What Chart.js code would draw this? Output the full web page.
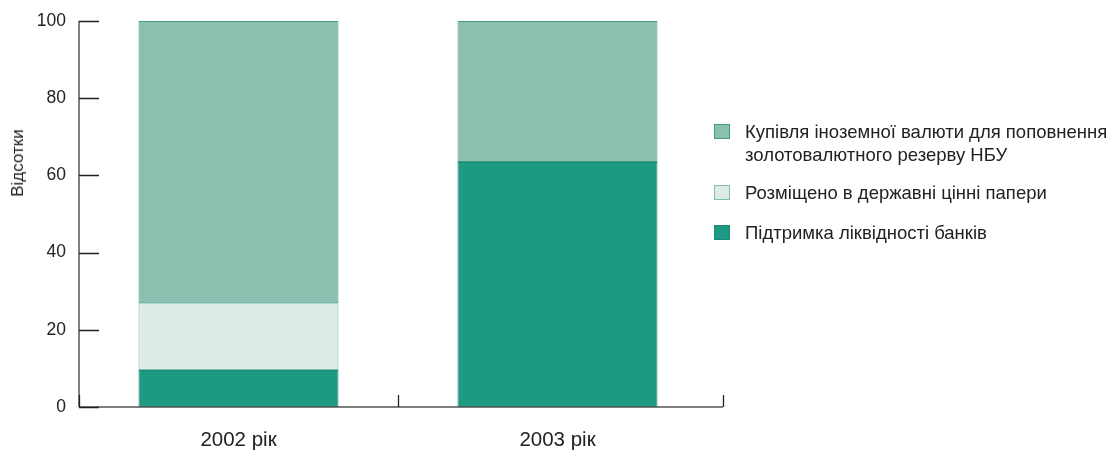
<!DOCTYPE html>
<html>
<head>
<meta charset="utf-8">
<script src="https://cdn.jsdelivr.net/npm/chart.js@4"></script>
<style>
  body { margin: 0; background: #fff; }
  #wrap { position: relative; width: 1108px; height: 452px; font-family: "Liberation Sans", Arial, sans-serif; color: #222; }
  #ytitle { position: absolute; left: 18px; top: 163px; font-size: 17px; white-space: nowrap; transform: translate(-50%, -50%) rotate(-90deg); }
  .item { position: absolute; left: 714px; padding-left: 31px; font-size: 18.5px; line-height: 23px; white-space: nowrap; }
  .box { position: absolute; left: 0; top: 4px; width: 14px; height: 13px; border: 1px solid; }
</style>
</head>
<body>
<div id="wrap">
  <canvas id="chart" width="1108" height="452"></canvas>
  <div id="ytitle">Відсотки</div>
</div>
<script>
const years = ['2002 рік', '2003 рік'];
const liquidity = [9.6, 63.5];
const securities = [17.3, 0];
const purchase = [73.1, 36.5];
const yTicks = [0, 20, 40, 60, 80, 100];

const names = {
  purchase: ['Купівля іноземної валюти для поповнення', 'золотовалютного резерву НБУ'],
  securities: ['Розміщено в державні цінні папери'],
  liquidity: ['Підтримка ліквідності банків']
};

const colors = {
  liquidity: { fill: '#1e9a84', border: '#178a72' },
  securities: { fill: '#dcebe7', border: '#7cbfac' },
  purchase: { fill: '#8bbfb0', border: '#3f9f86' }
};

// axis lines and inward tick marks like the original
const axesPlugin = {
  id: 'axes',
  afterDraw(chart) {
    const c = chart.ctx, a = chart.chartArea;
    const x = chart.scales.x, y = chart.scales.y;
    const end = a.right + 6;
    c.save();
    c.strokeStyle = '#555';
    c.lineWidth = 1.5;
    c.beginPath();
    c.moveTo(a.left, a.top);
    c.lineTo(a.left, a.bottom);
    c.moveTo(a.left, a.bottom);
    c.lineTo(end, a.bottom);
    c.stroke();
    c.strokeStyle = '#222';
    c.lineWidth = 1.3;
    c.beginPath();
    yTicks.forEach(v => {
      const py = Math.round(y.getPixelForValue(v)) + 0.5;
      c.moveTo(a.left, py);
      c.lineTo(a.left + 20, py);
    });
    const mid = (x.getPixelForValue(0) + x.getPixelForValue(1)) / 2;
    [a.left, mid, end].forEach(px => {
      c.moveTo(Math.round(px) + 0.5, a.bottom);
      c.lineTo(Math.round(px) + 0.5, a.bottom - 12);
    });
    c.stroke();
    c.restore();
  }
};

const mk = (key, data) => ({
  label: names[key].join(' '),
  data: data,
  backgroundColor: colors[key].fill,
  borderColor: colors[key].border,
  borderWidth: 1,
  borderSkipped: false
});

const font = '"Liberation Sans", Arial, sans-serif';

const chart = new Chart(document.getElementById('chart'), {
  type: 'bar',
  data: {
    labels: years,
    datasets: [
      mk('liquidity', liquidity),
      mk('securities', securities),
      mk('purchase', purchase)
    ]
  },
  options: {
    responsive: false,
    animation: false,
    layout: { padding: { top: 21, right: 391, left: 0, bottom: 0 } },
    datasets: { bar: { barPercentage: 0.627, categoryPercentage: 1 } },
    scales: {
      x: {
        stacked: true,
        grid: { display: false, tickLength: 0 },
        border: { display: false },
        ticks: { padding: 21, color: '#222', font: { family: font, size: 20.5 } },
        afterFit: s => { s.height = 45; }
      },
      y: {
        stacked: true,
        min: 0,
        max: 100,
        afterBuildTicks: s => { s.ticks = yTicks.map(v => ({ value: v })); },
        grid: { display: false, tickLength: 0 },
        border: { display: false },
        ticks: { padding: 13, color: '#222', font: { family: font, size: 17.5 } },
        afterFit: s => { s.width = 79; s.paddingTop = 0; s.paddingBottom = 0; }
      }
    },
    plugins: {
      legend: { display: false },
      tooltip: { enabled: false }
    }
  },
  plugins: [axesPlugin]
});

// legend drawn as html so the first label can wrap on two lines
const legendTops = [120, 181, 221];
const wrap = document.getElementById('wrap');
['purchase', 'securities', 'liquidity'].forEach((key, i) => {
  const div = document.createElement('div');
  div.className = 'item';
  div.style.top = legendTops[i] + 'px';
  div.innerHTML = '<span class="box" style="background:' + colors[key].fill + ';border-color:' + colors[key].border + '"></span>' + names[key].join('<br>');
  wrap.appendChild(div);
});
</script>
</body>
</html>
